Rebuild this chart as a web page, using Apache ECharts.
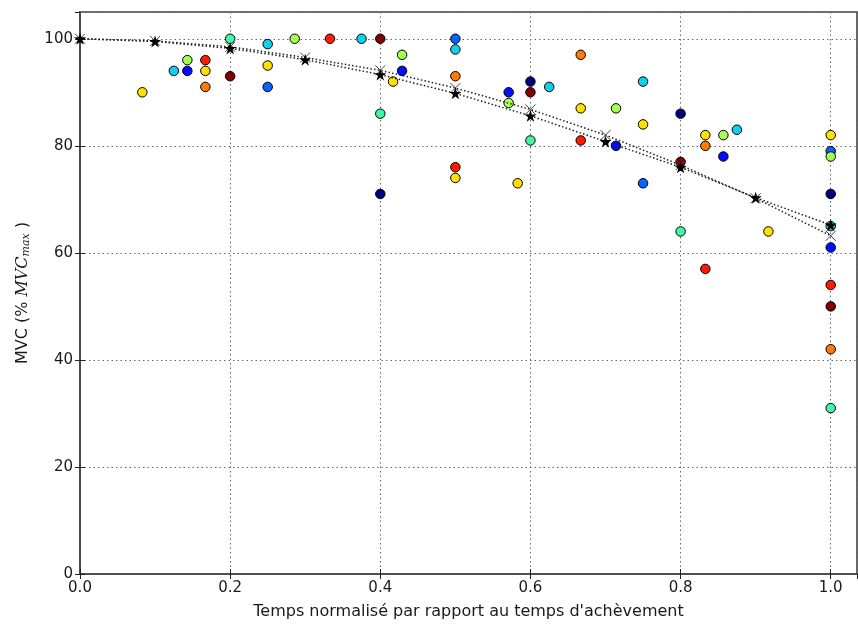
<!DOCTYPE html>
<html>
<head>
<meta charset="utf-8">
<script src="https://cdn.jsdelivr.net/npm/echarts@6/dist/echarts.min.js"></script>
<style>
html,body{margin:0;padding:0;background:#fff;}
#chart{width:858px;height:626px;}
</style>
</head>
<body>
<div id="chart"></div>
<script>
// ---- data ----
var xTicks = [0.0, 0.2, 0.4, 0.6, 0.8, 1.0];
var yTicks = [0, 20, 40, 60, 80, 100];

var yellowX = [0.083, 0.167, 0.25, 0.417, 0.5, 0.583, 0.667, 0.75, 0.833, 0.917, 1.0];
var yellowY = [90, 94, 95, 92, 74, 73, 87, 84, 82, 64, 82];
var limeX = [0.143, 0.286, 0.429, 0.571, 0.714, 0.857, 1.0];
var limeY = [96, 100, 97, 88, 87, 82, 78];
var redX = [0.167, 0.333, 0.5, 0.667, 0.833, 1.0];
var redY = [96, 100, 76, 81, 57, 54];
var cyanX = [0.125, 0.25, 0.375, 0.5, 0.625, 0.75, 0.875, 1.0];
var cyanY = [94, 99, 100, 98, 91, 92, 83, 65];
var blueX = [0.143, 0.429, 0.571, 0.714, 0.857, 1.0];
var blueY = [94, 94, 90, 80, 78, 61];
var orangeX = [0.167, 0.5, 0.667, 0.833, 1.0];
var orangeY = [91, 93, 97, 80, 42];
var darkRedX = [0.2, 0.4, 0.6, 0.8, 1.0];
var darkRedY = [93, 100, 90, 77, 50];
var aquaX = [0.2, 0.4, 0.6, 0.8, 1.0];
var aquaY = [100, 86, 81, 64, 31];
var azureX = [0.25, 0.5, 0.75, 1.0];
var azureY = [91, 100, 73, 79];
var navyX = [0.4, 0.6, 0.8, 1.0];
var navyY = [71, 92, 86, 71];

var curveX = [0.0, 0.1, 0.2, 0.3, 0.4, 0.5, 0.6, 0.7, 0.8, 0.9, 1.0];
var starY = [100, 99.5, 98.2, 96.1, 93.3, 89.8, 85.6, 80.8, 76.0, 70.3, 65.2];
var crossY = [100, 99.6, 98.5, 96.5, 94.1, 90.8, 86.8, 82.0, 76.4, 70.2, 63.2];

// ---- build ----
function pairs(xs, ys) { return xs.map(function (x, i) { return [x, ys[i]]; }); }

var groups = [
  { x: navyX, y: navyY, c: '#00007f' },
  { x: blueX, y: blueY, c: '#0010ff' },
  { x: azureX, y: azureY, c: '#0066ff' },
  { x: cyanX, y: cyanY, c: '#10d0f0' },
  { x: aquaX, y: aquaY, c: '#44f4a8' },
  { x: limeX, y: limeY, c: '#a6ff50' },
  { x: yellowX, y: yellowY, c: '#ffe000' },
  { x: orangeX, y: orangeY, c: '#ff7a00' },
  { x: redX, y: redY, c: '#ff1a00' },
  { x: darkRedX, y: darkRedY, c: '#800000' }
];

var STAR = 'path://M50,0 L61.8,35.4 L98.9,35.4 L68.9,57.3 L80.4,92.7 L50,70.8 L19.6,92.7 L31.1,57.3 L1.1,35.4 L38.2,35.4 Z';
var CROSS = 'path://M0,0 L10,10 M10,0 L0,10';

var series = groups.map(function (g) {
  return {
    type: 'scatter',
    data: pairs(g.x, g.y),
    symbol: 'circle',
    symbolSize: 9.5,
    itemStyle: { color: g.c, borderColor: '#000', borderWidth: 1, opacity: 1 },
    z: 3,
    silent: true
  };
});

series.push({
  type: 'line',
  data: pairs(curveX, crossY),
  symbol: CROSS,
  symbolSize: 10,
  showAllSymbol: true,
  lineStyle: { color: '#222', width: 1.5, type: [1.5, 2.2] },
  itemStyle: { color: 'rgba(0,0,0,0)', borderColor: '#444', borderWidth: 1 },
  z: 4,
  silent: true,
  clip: false
});
series.push({
  type: 'line',
  data: pairs(curveX, starY),
  symbol: STAR,
  symbolSize: 12,
  showAllSymbol: true,
  lineStyle: { color: '#222', width: 1.5, type: [1.5, 2.2] },
  itemStyle: { color: '#000', borderColor: '#000', borderWidth: 0 },
  z: 5,
  silent: true,
  clip: false
});

var FONT = 'DejaVu Sans';
var gridDash = { color: '#666', width: 1, type: [1.5, 3] };

var option = {
  animation: false,
  backgroundColor: '#fff',
  grid: { left: 80, top: 12, right: 1, bottom: 52, show: true, borderColor: '#444', borderWidth: 1.6, backgroundColor: 'transparent' },
  xAxis: [{
    type: 'value', min: 0, max: 1.035, interval: 0.2, position: 'bottom',
    name: "Temps normalisé par rapport au temps d'achèvement",
    nameLocation: 'middle', nameGap: 30,
    nameTextStyle: { fontFamily: FONT, fontSize: 16, color: '#1a1a1a' },
    axisLine: { show: true, lineStyle: { color: '#444', width: 1.6 } },
    axisTick: { show: true, inside: true, length: 5, lineStyle: { color: '#222', width: 1 } },
    axisLabel: {
      fontFamily: FONT, fontSize: 15, color: '#1a1a1a', margin: 7,
      showMaxLabel: false,
      formatter: function (v) {
        for (var i = 0; i < xTicks.length; i++) if (Math.abs(v - xTicks[i]) < 1e-6) return xTicks[i].toFixed(1);
        return '';
      }
    },
    splitLine: { show: true, lineStyle: gridDash }
  }, {
    type: 'value', min: 0, max: 1.035, interval: 0.2, position: 'top',
    axisLine: { show: false },
    axisTick: { show: true, inside: true, length: 5, lineStyle: { color: '#222', width: 1 } },
    axisLabel: { show: false },
    splitLine: { show: false }
  }],
  yAxis: [{
    type: 'value', min: 0, max: 105, interval: 20, position: 'left',
    name: '{n|MVC (% }{i|MVC}{s|max}{n| )}',
    nameLocation: 'middle', nameGap: 48,
    nameTextStyle: {
      fontFamily: FONT, fontSize: 16, color: '#1a1a1a',
      rich: {
        n: { fontFamily: FONT, fontSize: 16, color: '#1a1a1a' },
        i: { fontFamily: 'DejaVu Serif', fontStyle: 'italic', fontSize: 16, color: '#1a1a1a' },
        s: { fontFamily: 'DejaVu Serif', fontStyle: 'italic', fontSize: 11, color: '#1a1a1a', padding: [8, 0, 0, 0] }
      }
    },
    axisLine: { show: true, lineStyle: { color: '#444', width: 1.6 } },
    axisTick: { show: true, inside: true, length: 5, lineStyle: { color: '#222', width: 1 } },
    axisLabel: {
      fontFamily: FONT, fontSize: 15, color: '#1a1a1a', margin: 7,
      showMaxLabel: false,
      formatter: function (v) { return yTicks.indexOf(v) >= 0 ? String(v) : ''; }
    },
    splitLine: { show: true, lineStyle: gridDash }
  }, {
    type: 'value', min: 0, max: 105, interval: 20, position: 'right',
    axisLine: { show: false },
    axisTick: { show: true, inside: true, length: 5, lineStyle: { color: '#222', width: 1 } },
    axisLabel: { show: false },
    splitLine: { show: false }
  }],
  series: series
};

var chart = echarts.init(document.getElementById('chart'), null, { renderer: 'canvas' });
chart.setOption(option);
</script>
</body>
</html>
